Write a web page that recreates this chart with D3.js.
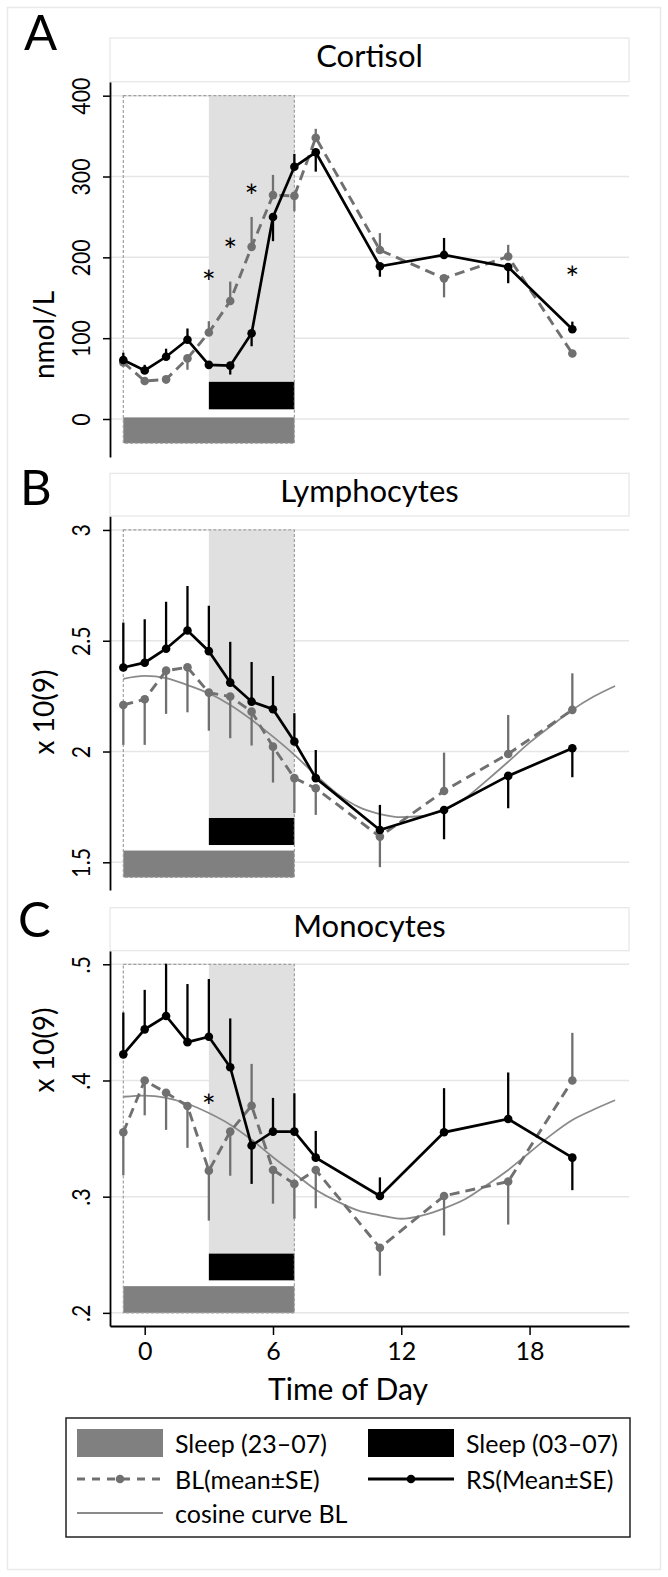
<!DOCTYPE html>
<html>
<head>
<meta charset="utf-8">
<script src="https://cdn.jsdelivr.net/npm/d3@7"></script>
<style>
  body { margin: 0; background: #fff; }
  text { font-family: Lato, "Open Sans", sans-serif; fill: #000; }
</style>
</head>
<body>
<div id="chart"></div>
<script>
// sampling times (hour of day, 23:00 = -1)
var hours = [-1, 0, 1, 2, 3, 4, 5, 6, 7, 8, 11, 14, 17, 20];
var cosHours = [-1, 0, 1, 2, 3, 4, 5, 6, 7, 8, 9, 10, 11, 12, 13, 14, 15, 16, 17, 18, 19, 20, 21, 22];
var xTicks = [0, 6, 12, 18];
var sleepBL = [-1, 7];   // 23-07
var sleepRS = [3, 7];    // 03-07

// Cortisol (nmol/L)
var cortBL   = [70, 47, 49, 75, 107, 146, 213, 277, 276, 348, 209, 174, 201, 81];
var cortBLse = [5, 5, 5, 14, 14, 24, 37, 25, 19, 11, 21, 23.5, 14.5, 4];
var cortRS   = [73, 60, 77, 98, 67, 66, 106, 250, 312, 330, 189, 203, 188, 111];
var cortRSse = [9, 7, 10, 14, 5, 11, 16, 30, 16, 24, 13, 21, 20, 9.5];
var cortTicks = [0, 100, 200, 300, 400];
var cortStars = [{h: 3, v: 177}, {h: 4, v: 216}, {h: 5, v: 283}, {h: 20, v: 182}];

// Lymphocytes (x 10(9))
var lymBL   = [2.210, 2.236, 2.365, 2.380, 2.266, 2.248, 2.180, 2.022, 1.880, 1.834, 1.616, 1.822, 1.989, 2.188];
var lymBLse = [0.18, 0.206, 0.195, 0.203, 0.172, 0.188, 0.153, 0.162, 0.158, 0.12, 0.138, 0.173, 0.176, 0.165];
var lymRS   = [2.379, 2.401, 2.464, 2.546, 2.453, 2.311, 2.225, 2.191, 2.045, 1.880, 1.646, 1.736, 1.890, 2.015];
var lymRSse = [0.203, 0.196, 0.212, 0.201, 0.205, 0.184, 0.179, 0.150, 0.128, 0.127, 0.113, 0.132, 0.146, 0.131];
var lymCos  = [2.328, 2.341, 2.331, 2.30, 2.263, 2.21, 2.143, 2.067, 1.985, 1.894, 1.81, 1.75, 1.718, 1.704, 1.709, 1.736, 1.79, 1.87, 1.954, 2.04, 2.115, 2.188, 2.248, 2.296];
var lymTicks = [1.5, 2, 2.5, 3];

// Monocytes (x 10(9))
var monBL   = [0.3554, 0.400, 0.3895, 0.378, 0.3224, 0.356, 0.3783, 0.323, 0.311, 0.323, 0.256, 0.3006, 0.313, 0.400];
var monBLse = [0.037, 0.030, 0.032, 0.036, 0.043, 0.038, 0.036, 0.029, 0.030, 0.033, 0.024, 0.034, 0.037, 0.041];
var monRS   = [0.4225, 0.444, 0.4555, 0.433, 0.4377, 0.4114, 0.344, 0.356, 0.356, 0.3336, 0.3006, 0.3554, 0.3669, 0.3336];
var monRSse = [0.036, 0.034, 0.045, 0.05, 0.0496, 0.042, 0.033, 0.029, 0.033, 0.023, 0.016, 0.038, 0.040, 0.028];
var monCos  = [0.386, 0.387, 0.385, 0.380, 0.372, 0.362, 0.349, 0.334, 0.320, 0.306, 0.296, 0.288, 0.284, 0.281, 0.284, 0.290, 0.298, 0.310, 0.323, 0.338, 0.353, 0.366, 0.375, 0.383];
var monTicks = [0.2, 0.3, 0.4, 0.5];
var monStars = [{h: 3, v: 0.383}];

var grey = "#707070";
var left = 110, right = 629;

var svg = d3.select("#chart").append("svg")
    .attr("width", 668)
    .attr("height", 1577);

// outer frame of the graph region
svg.append("rect")
    .attr("x", 7.5).attr("y", 7.5)
    .attr("width", 653).attr("height", 1562)
    .attr("fill", "none").attr("stroke", "#e9e9e9").attr("stroke-width", 1.5);

var x = d3.scaleLinear().domain([-1.623, 22.65]).range([left, right]);

var panels = [
  {letter: "A", title: "Cortisol", ylab: "nmol/L", bl: cortBL, blse: cortBLse, rs: cortRS, rsse: cortRSse, cos: null,
   ticks: cortTicks, fmt: function (d) {return d;}, domain: [-47, 417.3], top: 81.7, bottom: 457, boxTop: 38,
   letterY: 50, letterX: 24, ylabY: 335, greyBar: [-30, 2], blackBar: [12, 46], stars: cortStars},
  {letter: "B", title: "Lymphocytes", ylab: "x 10(9)", bl: lymBL, blse: lymBLse, rs: lymRS, rsse: lymRSse, cos: lymCos,
   ticks: lymTicks, fmt: function (d) {return d;}, domain: [1.375, 3.063], top: 516, bottom: 890, boxTop: 473.3,
   letterY: 505, letterX: 20, ylabY: 712, greyBar: [1.432, 1.553], blackBar: [1.578, 1.70], stars: []},
  {letter: "C", title: "Monocytes", ylab: "x 10(9)", bl: monBL, blse: monBLse, rs: monRS, rsse: monRSse, cos: monCos,
   ticks: monTicks, fmt: function (d) {return String(d).replace("0.", ".");}, domain: [0.1887, 0.5117], top: 950.7, bottom: 1326, boxTop: 907.7,
   letterY: 937, letterX: 18, ylabY: 1050, greyBar: [0.2, 0.223], blackBar: [0.228, 0.251], stars: monStars}
];

panels.forEach(function (p) {
  var y = d3.scaleLinear().domain(p.domain).range([p.bottom, p.top]);
  var g = svg.append("g");
  var topVal = p.ticks[p.ticks.length - 1];

  // gridlines
  g.append("g").selectAll("line").data(p.ticks).enter().append("line")
      .attr("x1", left).attr("x2", right)
      .attr("y1", function (d) {return y(d);}).attr("y2", function (d) {return y(d);})
      .attr("stroke", "#e6e6e6").attr("stroke-width", 1.5);

  // light grey shading for restricted sleep
  g.append("rect")
      .attr("x", x(sleepRS[0])).attr("width", x(sleepRS[1]) - x(sleepRS[0]))
      .attr("y", y(topVal)).attr("height", y(p.blackBar[1]) - y(topVal))
      .attr("fill", "#e0e0e0");
  // sleep bars
  g.append("rect")
      .attr("x", x(sleepBL[0])).attr("width", x(sleepBL[1]) - x(sleepBL[0]))
      .attr("y", y(p.greyBar[1])).attr("height", y(p.greyBar[0]) - y(p.greyBar[1]))
      .attr("fill", "#808080");
  g.append("rect")
      .attr("x", x(sleepRS[0])).attr("width", x(sleepRS[1]) - x(sleepRS[0]))
      .attr("y", y(p.blackBar[1])).attr("height", y(p.blackBar[0]) - y(p.blackBar[1]))
      .attr("fill", "#000");
  // dashed box
  g.append("rect")
      .attr("x", x(sleepBL[0])).attr("width", x(sleepBL[1]) - x(sleepBL[0]))
      .attr("y", y(topVal)).attr("height", y(p.greyBar[0]) - y(topVal))
      .attr("fill", "none").attr("stroke", "#a0a0a0").attr("stroke-width", 1.2)
      .attr("stroke-dasharray", "3,2");

  // cosine curve
  if (p.cos) {
    g.append("path")
        .datum(p.cos)
        .attr("d", d3.line().curve(d3.curveMonotoneX)
            .x(function (d, i) {return x(cosHours[i]);})
            .y(function (d) {return y(d);}))
        .attr("fill", "none").attr("stroke", "#8a8a8a").attr("stroke-width", 1.8);
  }

  // direction of the SE whiskers: away from the other series
  var rsUp = p.rs.map(function (d, i) {return d >= p.bl[i] ? 1 : -1;});

  function series(vals, se, dirs, color, width, dash) {
    g.append("g").selectAll("line").data(vals).enter().append("line")
        .attr("x1", function (d, i) {return x(hours[i]);})
        .attr("x2", function (d, i) {return x(hours[i]);})
        .attr("y1", function (d) {return y(d);})
        .attr("y2", function (d, i) {return y(d + dirs[i] * se[i]);})
        .attr("stroke", color).attr("stroke-width", 2.3);
    g.append("path")
        .datum(vals)
        .attr("d", d3.line().x(function (d, i) {return x(hours[i]);}).y(function (d) {return y(d);}))
        .attr("fill", "none").attr("stroke", color).attr("stroke-width", width)
        .attr("stroke-dasharray", dash);
    g.append("g").selectAll("circle").data(vals).enter().append("circle")
        .attr("cx", function (d, i) {return x(hours[i]);})
        .attr("cy", function (d) {return y(d);})
        .attr("r", 4.3).attr("fill", color);
  }
  series(p.bl, p.blse, rsUp.map(function (d) {return -d;}), grey, 2.9, "10,6");
  series(p.rs, p.rsse, rsUp, "#000", 2.7, null);

  // significance stars
  g.append("g").selectAll("text").data(p.stars).enter().append("text")
      .attr("x", function (d) {return x(d.h);})
      .attr("y", function (d) {return y(d.v) + 18;})
      .attr("text-anchor", "middle")
      .style("font-size", "33px")
      .text("*");

  // y axis
  var ax = g.append("g")
      .attr("transform", "translate(" + left + ",0)")
      .call(d3.axisLeft(y).tickValues(p.ticks).tickFormat(p.fmt).tickSize(7).tickSizeOuter(0));
  ax.select(".domain").attr("stroke", "#000").attr("stroke-width", 1.8);
  ax.selectAll(".tick line").attr("stroke", "#000").attr("stroke-width", 1.5);
  ax.selectAll(".tick text")
      .attr("x", null).attr("dy", null)
      .attr("transform", "translate(-20,0) rotate(-90) scale(0.85,1)")
      .attr("text-anchor", "middle")
      .style("font-size", "25px")
      .style("font-family", "Lato, sans-serif")
      .attr("fill", "#000");

  // title box
  g.append("rect")
      .attr("x", left).attr("y", p.boxTop)
      .attr("width", right - left).attr("height", p.top - p.boxTop)
      .attr("fill", "#fff").attr("stroke", "#e6e6e6").attr("stroke-width", 1.2);
  g.append("text")
      .attr("x", (left + right) / 2).attr("y", p.boxTop + 29)
      .attr("text-anchor", "middle")
      .style("font-size", "31px")
      .text(p.title);

  // panel letter and y title
  g.append("text")
      .attr("x", p.letterX).attr("y", p.letterY)
      .style("font-size", "49px")
      .text(p.letter);
  g.append("text")
      .attr("transform", "translate(54," + p.ylabY + ") rotate(-90)")
      .attr("text-anchor", "middle")
      .style("font-size", "28px")
      .text(p.ylab);
});

// x axis (bottom panel only)
var xa = svg.append("g")
    .attr("transform", "translate(0,1326)")
    .call(d3.axisBottom(x).tickValues(xTicks).tickSize(9).tickSizeOuter(0).tickPadding(7));
xa.select(".domain").attr("stroke", "#000").attr("stroke-width", 1.8);
xa.selectAll(".tick line").attr("stroke", "#000").attr("stroke-width", 1.5);
xa.selectAll(".tick text")
    .style("font-size", "25px")
    .style("font-family", "Lato, sans-serif")
    .attr("fill", "#000");

svg.append("text")
    .attr("x", 348).attr("y", 1400)
    .attr("text-anchor", "middle")
    .style("font-size", "30px")
    .text("Time of Day");

// legend
var legend = svg.append("g");
legend.append("rect")
    .attr("x", 66).attr("y", 1418)
    .attr("width", 564).attr("height", 119)
    .attr("fill", "#fff").attr("stroke", "#222").attr("stroke-width", 1.5);

var legendItems = [
  {label: "Sleep (23\u201307)", kind: "bar", color: "#808080", col: 0, row: 0},
  {label: "Sleep (03\u201307)", kind: "bar", color: "#000", col: 1, row: 0},
  {label: "BL(mean\u00b1SE)", kind: "dot", color: grey, dash: "8,7", w: 2.9, col: 0, row: 1},
  {label: "RS(Mean\u00b1SE)", kind: "dot", color: "#000", dash: null, w: 2.9, col: 1, row: 1},
  {label: "cosine curve BL", kind: "line", color: "#8a8a8a", dash: null, w: 1.8, col: 0, row: 2}
];
var colX = [77, 368], rowY = [1443, 1479, 1513], swW = 86;

legendItems.forEach(function (d) {
  var x0 = colX[d.col], cy = rowY[d.row];
  if (d.kind === "bar") {
    legend.append("rect").attr("x", x0).attr("y", cy - 14)
        .attr("width", swW).attr("height", 28).attr("fill", d.color);
  } else {
    legend.append("line").attr("x1", x0).attr("x2", x0 + swW)
        .attr("y1", cy).attr("y2", cy)
        .attr("stroke", d.color).attr("stroke-width", d.w)
        .attr("stroke-dasharray", d.dash);
    if (d.kind === "dot") {
      legend.append("circle").attr("cx", x0 + swW / 2).attr("cy", cy)
          .attr("r", 4.3).attr("fill", d.color);
    }
  }
  legend.append("text")
      .attr("x", x0 + 98).attr("y", cy + 10)
      .style("font-size", "25px")
      .text(d.label);
});
</script>
</body>
</html>
